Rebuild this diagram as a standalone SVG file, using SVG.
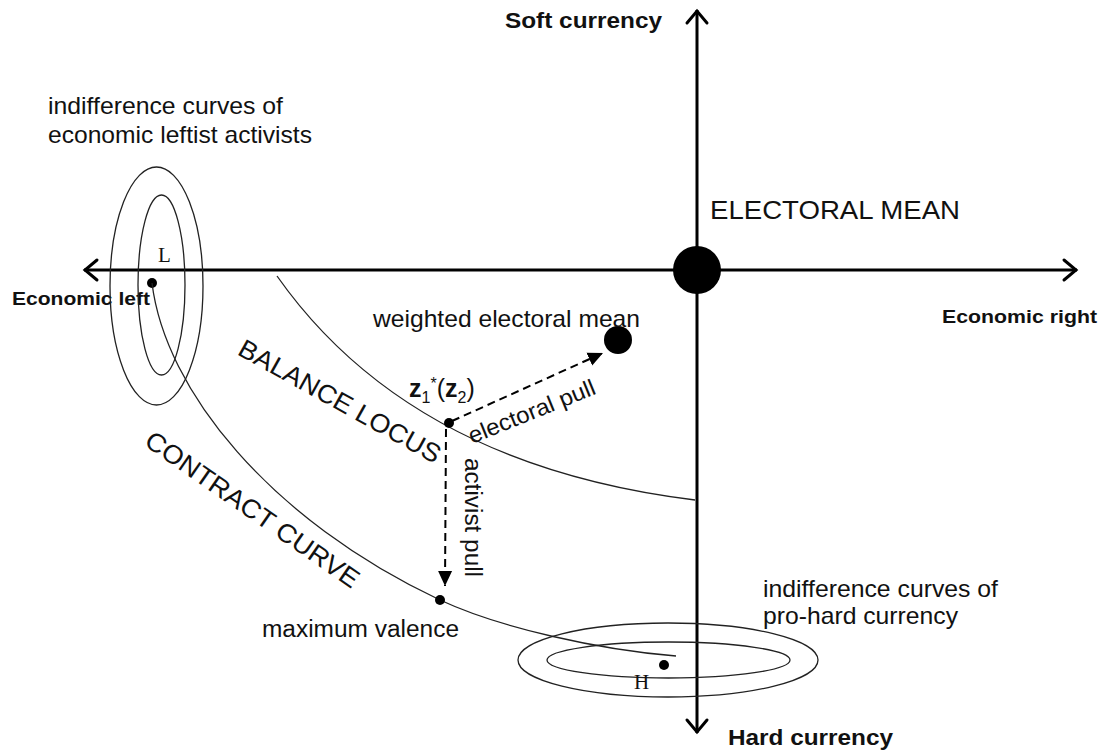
<svg xmlns="http://www.w3.org/2000/svg" width="1107" height="756" viewBox="0 0 1107 756">
<defs>
<style>
.t{font-family:"Liberation Sans",Arial,sans-serif;fill:#111;}
.b{font-weight:bold;}
.s{font-family:"Liberation Serif","Times New Roman",serif;fill:#111;}
.axis{stroke:#000;stroke-width:3;fill:none;}
.head{stroke:#000;stroke-width:3;fill:none;stroke-linecap:round;stroke-linejoin:miter;}
.thin{stroke:#222;stroke-width:1.3;fill:none;}
.dash{stroke:#000;stroke-width:2;fill:none;stroke-dasharray:8 5;}
</style>
<marker id="tri" markerUnits="userSpaceOnUse" markerWidth="16" markerHeight="16" viewBox="0 0 16 16" refX="15" refY="8" orient="auto">
<path d="M0,1 L15,8 L0,15 Z" fill="#000"/>
</marker>
</defs>
<rect width="1107" height="756" fill="#fff"/>

<g id="axes">
<line class="axis" x1="84" y1="270" x2="1077" y2="270"/>
<polyline class="head" points="97,260 85,270 97,280"/>
<polyline class="head" points="1064,260 1076,270 1064,280"/>
<line class="axis" x1="697" y1="10" x2="697" y2="733"/>
<polyline class="head" points="687,23 697,11 707,23"/>
<polyline class="head" points="687,720 697,732 707,720"/>
</g>

<g id="axis-labels">
<text class="t b" x="505" y="28" font-size="22" textLength="157" lengthAdjust="spacingAndGlyphs">Soft currency</text>
<text class="t b" x="728" y="745" font-size="22" textLength="165" lengthAdjust="spacingAndGlyphs">Hard currency</text>
<text class="t b" x="12" y="305" font-size="18" textLength="138" lengthAdjust="spacingAndGlyphs">Economic left</text>
<text class="t b" x="942" y="323" font-size="18" textLength="155" lengthAdjust="spacingAndGlyphs">Economic right</text>
</g>

<g id="left-indifference">
<ellipse class="thin" cx="156.5" cy="286" rx="46.5" ry="119"/>
<ellipse class="thin" cx="161.5" cy="285" rx="23.5" ry="90"/>
<text class="t" x="48" y="114" font-size="24" textLength="235" lengthAdjust="spacingAndGlyphs">indifference curves of</text>
<text class="t" x="48" y="143" font-size="24" textLength="264" lengthAdjust="spacingAndGlyphs">economic leftist activists</text>
</g>

<g id="node-L">
<circle cx="152" cy="283" r="5" fill="#000"/>
<text class="s" x="158" y="262" font-size="21">L</text>
</g>

<g id="right-indifference">
<ellipse class="thin" cx="668" cy="660" rx="150" ry="37"/>
<ellipse class="thin" cx="668.5" cy="660" rx="121.5" ry="18"/>
<text class="t" x="763" y="597" font-size="24" textLength="235" lengthAdjust="spacingAndGlyphs">indifference curves of</text>
<text class="t" x="763" y="624" font-size="24" textLength="195" lengthAdjust="spacingAndGlyphs">pro-hard currency</text>
</g>

<g id="node-H">
<circle cx="664" cy="665" r="5" fill="#000"/>
<text class="s" x="634" y="689" font-size="21">H</text>
</g>

<g id="node-electoral-mean">
<circle cx="697" cy="270" r="24" fill="#000"/>
<text class="t" x="710" y="219" font-size="26" textLength="250" lengthAdjust="spacingAndGlyphs">ELECTORAL MEAN</text>
</g>

<g id="node-weighted-mean">
<circle cx="618" cy="340" r="14" fill="#000"/>
<text class="t" x="373" y="327" font-size="24" textLength="267" lengthAdjust="spacingAndGlyphs">weighted electoral mean</text>
</g>

<g id="curves">
<path class="thin" d="M152,283 C165,390 270,520 440,600 C500,628 600,650 676,656"/>
<path class="thin" d="M277,276 Q410,465 695,500"/>
<text class="t" x="0" y="0" font-size="26" text-anchor="middle" textLength="227" lengthAdjust="spacingAndGlyphs" transform="translate(335.6,408.9) rotate(29)">BALANCE LOCUS</text>
<text class="t" x="0" y="0" font-size="26" text-anchor="middle" textLength="254" lengthAdjust="spacingAndGlyphs" transform="translate(247.4,516.9) rotate(34.7)">CONTRACT CURVE</text>
</g>

<g id="node-z">
<circle cx="449" cy="423" r="5" fill="#000"/>
<text class="t" x="409" y="397" font-size="25"><tspan class="b">z</tspan><tspan font-size="16" dy="6">1</tspan><tspan font-size="16" dy="-14">*</tspan><tspan dy="8">(</tspan><tspan class="b">z</tspan><tspan font-size="16" dy="6">2</tspan><tspan dy="-6">)</tspan></text>
</g>

<g id="node-max-valence">
<circle cx="440" cy="600" r="5" fill="#000"/>
<text class="t" x="262" y="637" font-size="23" textLength="197" lengthAdjust="spacingAndGlyphs">maximum valence</text>
</g>

<g id="connectors">
<line class="dash" x1="452" y1="421" x2="603" y2="353" marker-end="url(#tri)"/>
<line class="dash" x1="446" y1="429" x2="445" y2="586" marker-end="url(#tri)"/>
<text class="t" x="0" y="0" font-size="23" textLength="135" lengthAdjust="spacingAndGlyphs" transform="translate(472,444) rotate(-22)">electoral pull</text>
<text class="t" x="0" y="0" font-size="23" textLength="119" lengthAdjust="spacingAndGlyphs" transform="translate(465,458) rotate(90)">activist pull</text>
</g>
</svg>
